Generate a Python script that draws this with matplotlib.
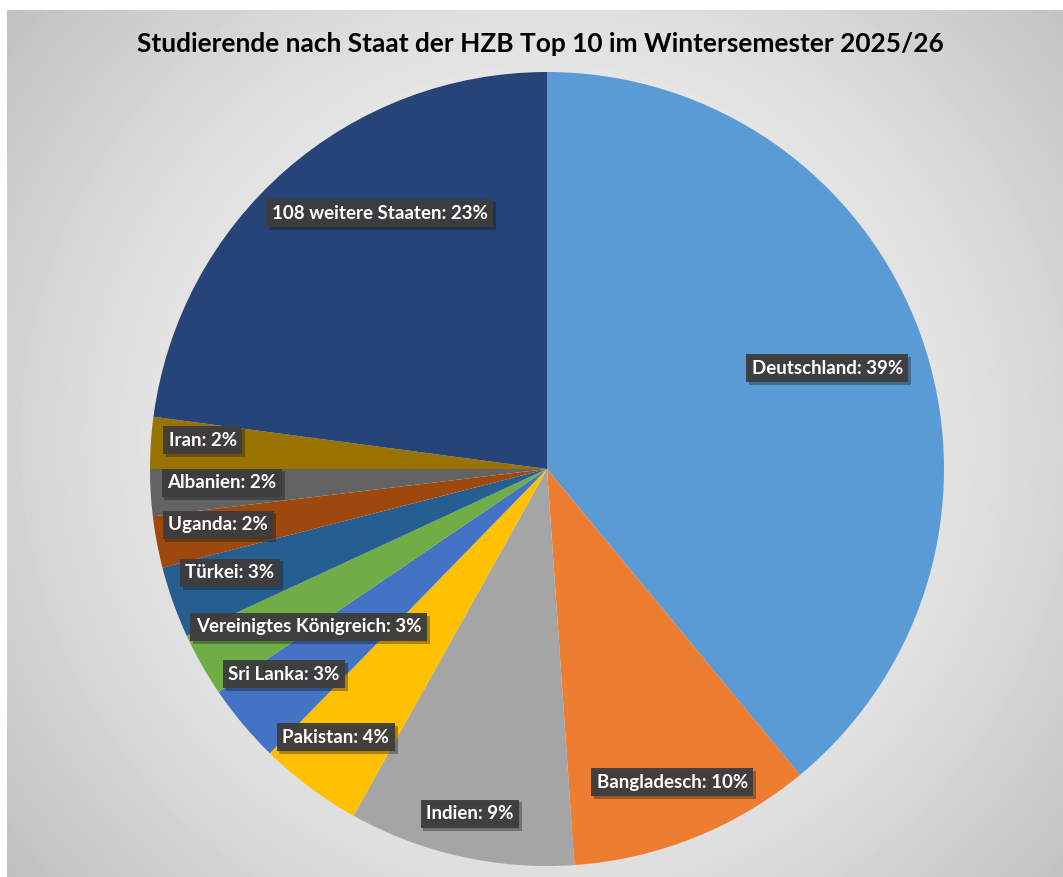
import numpy as np
import matplotlib
matplotlib.use("Agg")
from matplotlib import pyplot as plt
from matplotlib import patheffects as pe

title = "Studierende nach Staat der HZB Top 10 im Wintersemester 2025/26"
staaten = ["Deutschland", "Bangladesch", "Indien", "Pakistan", "Sri Lanka",
           "Vereinigtes Königreich", "Türkei", "Uganda", "Albanien", "Iran",
           "108 weitere Staaten"]
anteile = [39.0, 9.9, 9.2, 4.2, 3.2, 2.6, 2.9, 2.1, 1.9, 2.1, 22.9]
farben = ["#5B9BD5", "#ED7D31", "#A5A5A5", "#FFC000", "#4472C4", "#70AD47",
          "#255E91", "#9E480E", "#636363", "#997300", "#264478"]

# label placement (radius fraction, angle shift in degrees)
lab_r = [0.75, 0.85, 0.89, 0.86, 0.84, 0.72, 0.84, 0.84, 0.82, 0.87, 0.77]
lab_dt = [0, 0, 0, -1.5, -2, 4, -1.5, -1, -1, -1, -8]

W, H = 1063, 877
fig = plt.figure(figsize=(W / 100, H / 100), dpi=100)

# radial gradient background
bg = fig.add_axes([7 / W, 0, 1 - 7 / W, 1 - 10 / H])
yy, xx = np.mgrid[0:H - 10, 7:W]
d = np.hypot(xx - 547, (yy + 10 - 440) * 1.0) / 700
g = np.clip(1.0 - 0.25 * d ** 1.4, 0, 1)
bg.imshow(g, cmap="gray", vmin=0, vmax=1, aspect="auto", interpolation="bilinear")
bg.set_axis_off()

# pie axes: center (547,469), radius 397 px
R = 397
ax = fig.add_axes([(547 - R) / W, 1 - (469 + R) / H, 2 * R / W, 2 * R / H])
wedges, _ = ax.pie(anteile, colors=farben, startangle=90, counterclock=False,
                   radius=1, wedgeprops=dict(linewidth=0))
ax.set_aspect("auto")
ax.set_xlim(-1, 1)
ax.set_ylim(-1, 1)
ax.set_axis_off()

total = sum(anteile)
for w, name, val, r, dt in zip(wedges, staaten, anteile, lab_r, lab_dt):
    th = np.deg2rad((w.theta1 + w.theta2) / 2 + dt)
    t = ax.text(r * np.cos(th), r * np.sin(th), f"{name}: {round(val / total * 100)}%",
                ha="center", va="center", color="white", fontsize=13.5,
                fontweight="bold", family="Lato",
                bbox=dict(boxstyle="square,pad=0.3", fc="#3d3d3d", ec="none", alpha=0.95))
    t.get_bbox_patch().set_path_effects([pe.SimplePatchShadow(offset=(2, -2), alpha=0.35),
                                         pe.Normal()])

fig.text(540 / W, 1 - 44 / H, title, ha="center", va="center", fontsize=18.9,
         fontweight="bold", family="Lato", color="black")

fig.savefig("out.png", dpi=100)
